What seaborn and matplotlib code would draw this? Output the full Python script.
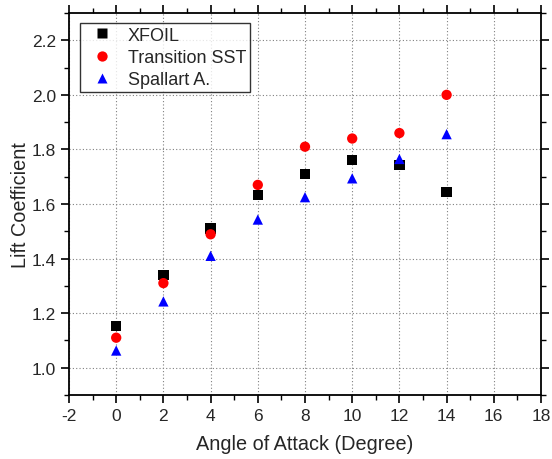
import numpy as np
import pandas as pd
import matplotlib
matplotlib.use("Agg")
import matplotlib.pyplot as plt
import seaborn as sns
from matplotlib.ticker import MultipleLocator

angles = [0, 2, 4, 6, 8, 10, 12, 14]
xfoil = [1.153, 1.341, 1.510, 1.633, 1.710, 1.762, 1.744, 1.645]
sst = [1.110, 1.310, 1.489, 1.670, 1.810, 1.840, 1.860, 2.000]
spalart = [1.063, 1.243, 1.410, 1.543, 1.625, 1.694, 1.765, 1.856]
series = ["XFOIL", "Transition SST", "Spallart A."]
colors = ["black", "red", "blue"]
markers = ["s", "o", "^"]

df = pd.concat([
    pd.DataFrame({"angle": angles, "cl": vals, "method": name})
    for name, vals in zip(series, [xfoil, sst, spalart])
])

sns.set_style("ticks")
plt.rcParams["font.family"] = ["Liberation Sans", "DejaVu Sans"]
plt.rcParams["axes.unicode_minus"] = False

fig = plt.figure(figsize=(5.52, 4.6), dpi=100)
ax = fig.add_axes([69/552, 1 - 396/460, (541-69)/552, (396-14)/460])

sns.scatterplot(data=df, x="angle", y="cl", hue="method", style="method",
                hue_order=series, style_order=series,
                palette=dict(zip(series, colors)),
                markers=dict(zip(series, markers)),
                s=55, edgecolor="none", ax=ax, zorder=3)

ax.set_xlim(-2, 18)
ax.set_ylim(0.9, 2.3)
ax.xaxis.set_major_locator(MultipleLocator(2))
ax.xaxis.set_minor_locator(MultipleLocator(1))
ax.yaxis.set_major_locator(MultipleLocator(0.2))
ax.yaxis.set_minor_locator(MultipleLocator(0.1))
ax.yaxis.set_major_formatter(matplotlib.ticker.FormatStrFormatter("%.1f"))
ax.grid(True, which="major", linestyle=(0, (1, 2)), color="#808080", linewidth=0.8)
ax.set_axisbelow(True)
for sp in ax.spines.values():
    sp.set_visible(True)
    sp.set_linewidth(1.3)
    sp.set_color("black")
ax.tick_params(which="both", direction="out", top=True, right=True,
               labeltop=False, labelright=False, color="black")
ax.tick_params(which="major", length=5.5, width=1.2, labelsize=12.5, pad=4)
ax.tick_params(which="minor", length=3.5, width=1.0)

ax.set_xlabel("Angle of Attack (Degree)", fontsize=14.3, labelpad=8)
ax.set_ylabel("Lift Coefficient", fontsize=14.3, labelpad=1)

leg = ax.legend(loc="upper left", bbox_to_anchor=(0.023, 0.974), frameon=True,
                fancybox=False, edgecolor="black", fontsize=13,
                handletextpad=0.47, borderpad=0.2, labelspacing=0.3,
                borderaxespad=0, markerscale=1.0)
leg.get_frame().set_linewidth(1.0)
leg.set_title(None)

fig.savefig("out.png", dpi=100)
